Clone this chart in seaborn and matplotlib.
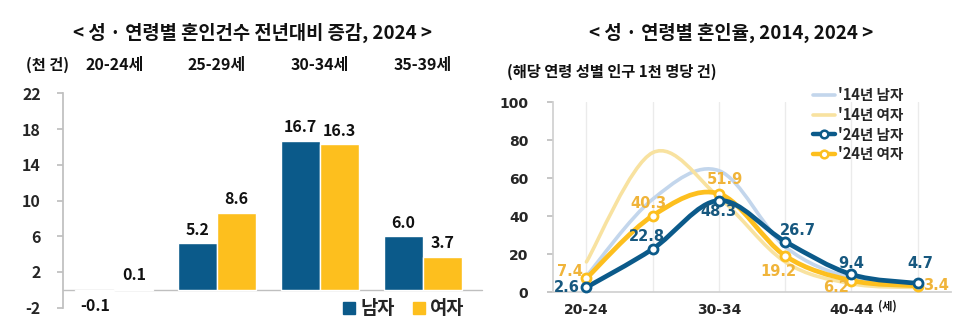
import numpy as np
import pandas as pd
import matplotlib
matplotlib.use("Agg")
import matplotlib.pyplot as plt
import seaborn as sns
from matplotlib.path import Path
from matplotlib.patches import PathPatch, Patch
from matplotlib.lines import Line2D

# ---------------- data ----------------
bar_groups = ["20-24세", "25-29세", "30-34세", "35-39세"]
male_change = [-0.1, 5.2, 16.7, 6.0]
female_change = [0.1, 8.6, 16.3, 3.7]
bar_yticks = [-2, 2, 6, 10, 14, 18, 22]

ages = ["20-24", "25-29", "30-34", "35-39", "40-44", "45-49"]
male_2014 = [8.5, 49, 64, 24, 7.5, 4]
female_2014 = [16, 73.5, 50, 16, 4.5, 2.5]
male_2024 = [2.6, 22.8, 48.3, 26.7, 9.4, 4.7]
female_2024 = [7.4, 40.3, 51.9, 19.2, 6.2, 3.4]
rate_yticks = [0, 20, 40, 60, 80, 100]
age_ticklabels = ["20-24", "", "30-34", "", "40-44", ""]

# ---------------- style ----------------
sns.set_theme(style="white")
FONT = ["Noto Sans CJK KR", "DejaVu Sans"]
NUMFONT = ["DejaVu Sans", "Noto Sans CJK KR"]
plt.rcParams["font.family"] = FONT
plt.rcParams["font.weight"] = "bold"

BLUE = "#0B5A8A"
YELLOW = "#FDBF1E"
LBLUE = "#C3D6EC"
LYELLOW = "#F8E2A0"
LBL_BLUE = "#17587F"
LBL_YEL = "#F0B43A"

W, H = 978, 333
fig = plt.figure(figsize=(W / 100, H / 100), dpi=100)


def fx(px):
    return px / W


def fy(py):
    return 1 - py / H


# ---------------- left: bar chart ----------------
ax1 = fig.add_axes([fx(63), fy(307.7), fx(474) - fx(63), (307.7 - 93.3) / H])
df = pd.DataFrame({
    "age": bar_groups * 2,
    "sex": ["남자"] * 4 + ["여자"] * 4,
    "value": male_change + female_change,
})
sns.barplot(data=df, x="age", y="value", hue="sex", palette=[BLUE, YELLOW],
            width=0.76, ax=ax1, legend=False, saturation=1)
ax1.set_xlim(-0.5, 3.5)
ax1.set_ylim(-2, 22)
ax1.set_yticks(bar_yticks)
ax1.set_yticklabels([str(t) for t in bar_yticks], fontsize=11.5, fontweight="bold")
ax1.set_xticks([])
ax1.set_xlabel("")
ax1.set_ylabel("")
for s in ["top", "right", "bottom"]:
    ax1.spines[s].set_visible(False)
ax1.spines["left"].set_color("#BFBFBF")
ax1.tick_params(axis="y", length=4, color="#BFBFBF", pad=12, direction="out", left=True)
ax1.axhline(0, color="#BFBFBF", lw=1, zorder=0, xmax=1.02, clip_on=False)

for container, vals in zip(ax1.containers, [male_change, female_change]):
    for bar, v in zip(container, vals):
        cx = bar.get_x() + bar.get_width() / 2
        if v >= 0:
            ax1.annotate(f"{v:.1f}", (cx, v), xytext=(0, 4), textcoords="offset points",
                         ha="center", va="bottom", fontsize=11.5, fontweight="bold", color="#111111")
        else:
            ax1.annotate(f"{v:.1f}", (cx, 0), xytext=(0, -6), textcoords="offset points",
                         ha="center", va="top", fontsize=11.5, fontweight="bold", color="#111111")

trans = matplotlib.transforms.blended_transform_factory(ax1.transData, fig.transFigure)
for i, g in enumerate(bar_groups):
    ax1.text(i, fy(65), g, transform=trans, ha="center", va="center",
             fontsize=11.5, fontweight="bold", color="#111111")
fig.text(fx(26), fy(65), "(천 건)", ha="left", va="center", fontsize=11,
         fontweight="bold", color="#111111")
fig.text(fx(253), fy(33), "< 성 · 연령별 혼인건수 전년대비 증감, 2024 >",
         ha="center", va="center", fontsize=13.5, fontweight="bold", color="#111111")

leg1 = fig.legend(handles=[Patch(color=BLUE, label="남자"), Patch(color=YELLOW, label="여자")],
                  loc="center", bbox_to_anchor=(fx(404), fy(309)), ncol=2, frameon=False,
                  fontsize=13.5, handlelength=0.6, handleheight=0.6, handletextpad=0.3,
                  columnspacing=1.0, borderpad=0)
for t in leg1.get_texts():
    t.set_fontweight("bold")

# ---------------- right: line chart ----------------
ax2 = fig.add_axes([fx(553.3), fy(292.3), fx(950.8) - fx(553.3), 190 / H])


def smooth_path(ys):
    pts = np.column_stack([np.arange(len(ys)), ys]).astype(float)
    n = len(pts)
    verts = [pts[0]]
    codes = [Path.MOVETO]
    for i in range(n - 1):
        p0 = pts[max(i - 1, 0)]
        p1 = pts[i]
        p2 = pts[i + 1]
        p3 = pts[min(i + 2, n - 1)]
        verts += [p1 + (p2 - p0) / 6, p2 - (p3 - p1) / 6, p2]
        codes += [Path.CURVE4] * 3
    return Path(verts, codes)


series = [
    (male_2014, LBLUE, 2.6, False),
    (female_2014, LYELLOW, 2.6, False),
    (female_2024, YELLOW, 3.4, True),
    (male_2024, BLUE, 3.4, True),
]
for z, (vals, col, lw, mk) in enumerate(series):
    ax2.add_patch(PathPatch(smooth_path(vals), facecolor="none", edgecolor=col, lw=lw,
                            capstyle="round", joinstyle="round", zorder=2 + z, clip_on=False))
    if mk:
        sns.lineplot(x=ages, y=vals, ax=ax2, linestyle="", marker="o", markersize=6.5,
                     markerfacecolor="white", markeredgecolor=col, markeredgewidth=2,
                     color=col, zorder=10 + z, clip_on=False, sort=False)

ax2.set_xlim(-0.5, 5.5)
ax2.set_ylim(0, 100)
ax2.set_yticks(rate_yticks)
ax2.set_yticklabels([str(t) for t in rate_yticks], fontsize=10, fontweight="bold",
                    family=NUMFONT)
ax2.set_xticks(range(len(ages)))
ax2.set_xticklabels(age_ticklabels, fontsize=10, fontweight="bold", family=NUMFONT)
ax2.set_xlabel("")
ax2.set_ylabel("")
ax2.tick_params(axis="x", length=0, pad=8)
ax2.tick_params(axis="y", length=4, color="#BFBFBF", pad=14, left=True)
for s in ["top", "right"]:
    ax2.spines[s].set_visible(False)
for s in ["left", "bottom"]:
    ax2.spines[s].set_color("#D0D0D0")
ax2.grid(axis="x", color="#EBEBEB", lw=1)
ax2.grid(axis="y", visible=False)
ax2.set_axisbelow(True)
ax2.text(4.4, -0.072, "(세)", transform=matplotlib.transforms.blended_transform_factory(
    ax2.transData, ax2.transAxes), ha="left", va="center", fontsize=8, fontweight="bold",
    color="#111111")

# data labels: (offset in points)
m_off = [(-14, 0), (-4, 9), (0, -8), (9, 8), (0, 8), (2, 14)]
f_off = [(-12, 5), (-3, 9), (4, 10), (-5, -11), (-11, -5), (13, 0)]
for i, (v, o) in enumerate(zip(male_2024, m_off)):
    ax2.annotate(f"{v:.1f}", (i, v), xytext=o, textcoords="offset points", ha="center",
                 va="center", fontsize=10.5, fontweight="bold", color=LBL_BLUE, zorder=20,
                 annotation_clip=False, family=NUMFONT)
for i, (v, o) in enumerate(zip(female_2024, f_off)):
    ax2.annotate(f"{v:.1f}", (i, v), xytext=o, textcoords="offset points", ha="center",
                 va="center", fontsize=10.5, fontweight="bold", color=LBL_YEL, zorder=20,
                 annotation_clip=False, family=NUMFONT)

handles = [
    Line2D([], [], color=LBLUE, lw=2.6, label="'14년 남자"),
    Line2D([], [], color=LYELLOW, lw=2.6, label="'14년 여자"),
    Line2D([], [], color=BLUE, lw=3.2, marker="o", markersize=5.5, markerfacecolor="white",
           markeredgecolor=BLUE, markeredgewidth=1.8, label="'24년 남자"),
    Line2D([], [], color=YELLOW, lw=3.2, marker="o", markersize=5.5, markerfacecolor="white",
           markeredgecolor=YELLOW, markeredgewidth=1.8, label="'24년 여자"),
]
leg2 = fig.legend(handles=handles, loc="upper left", bbox_to_anchor=(fx(806), fy(80)),
                  frameon=False, fontsize=10.5, handlelength=1.5, handletextpad=0.2,
                  labelspacing=0.25, borderpad=0)
for t in leg2.get_texts():
    t.set_fontweight("bold")

fig.text(fx(731), fy(33), "< 성 · 연령별 혼인율, 2014, 2024 >", ha="center", va="center",
         fontsize=13.5, fontweight="bold", color="#111111")
fig.text(fx(507), fy(72), "(해당 연령 성별 인구 1천 명당 건)", ha="left", va="center",
         fontsize=11, fontweight="bold", color="#111111")

fig.savefig("out.png", dpi=100, facecolor="white")
